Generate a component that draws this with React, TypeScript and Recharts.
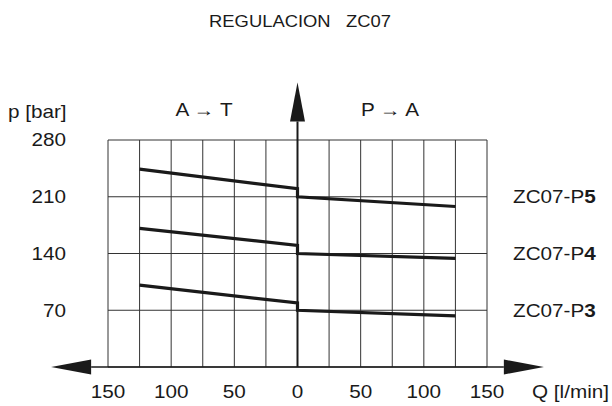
import React from 'react';
import { LineChart, Line, XAxis, YAxis, CartesianGrid, ReferenceLine, Customized } from 'recharts';

// ---- data ----
const flowQ = [-125, 0, 0, 125];
const pressureP5 = [244, 220, 210, 198];
const pressureP4 = [171, 150, 140, 134];
const pressureP3 = [101, 79, 70, 63];

const xGridTicks = [-150, -125, -100, -75, -50, -25, 0, 25, 50, 75, 100, 125, 150];
const xLabelTicks = [-150, -100, -50, 0, 50, 100, 150];
const yTicks = [0, 70, 140, 210, 280];
const yLabelTicks = [70, 140, 210, 280];

const curveNames = ['ZC07-P', 'ZC07-P', 'ZC07-P'];
const curveSuffix = ['5', '4', '3'];
const curveLevels = [210, 140, 70];

const xArrowRange = [-195, 195];
const yArrowTop = 351;

const tableData = flowQ.map((q, i) => ({
  q,
  p5: pressureP5[i],
  p4: pressureP4[i],
  p3: pressureP3[i],
}));

// ---- styles ----
const FONT = '"Liberation Sans", Arial, Helvetica, sans-serif';
const SX = 1.15;
const INK = '#1a1a1a';

const T = ({ x, y, anchor = 'start', size = 18, children }: any) => (
  <text
    transform={`translate(${x},${y}) scale(${SX},1)`}
    textAnchor={anchor}
    fontSize={size}
    fontFamily={FONT}
    fill={INK}
    stroke="none"
    dominantBaseline="central"
  >
    {children}
  </text>
);

const emptyTick = () => <g />;

const XTickLabel = (value: number) => (props: any) => {
  const { viewBox } = props;
  return (
    <T x={viewBox.x} y={392} anchor="middle">
      {String(Math.abs(value))}
    </T>
  );
};

const YTickLabel = (value: number) => (props: any) => {
  const { viewBox } = props;
  return (
    <T x={66} y={viewBox.y} anchor="end">
      {String(value)}
    </T>
  );
};

const YArrow = (props: any) => {
  const { x1, y1, y2 } = props;
  const top = Math.min(y1, y2);
  const bottom = Math.max(y1, y2);
  const head = 39;
  const half = 7.5;
  return (
    <g>
      <line x1={x1} x2={x1} y1={bottom} y2={top + head} stroke={INK} strokeWidth={2} />
      <polygon points={`${x1},${top} ${x1 - half},${top + head} ${x1 + half},${top + head}`} fill={INK} />
    </g>
  );
};

const XArrow = (props: any) => {
  const { x1, x2, y1 } = props;
  const left = Math.min(x1, x2);
  const right = Math.max(x1, x2);
  const head = 40;
  const half = 7.5;
  return (
    <g>
      <line x1={left + head} x2={right - head} y1={y1} y2={y1} stroke={INK} strokeWidth={1.5} />
      <polygon points={`${left},${y1} ${left + head},${y1 - half} ${left + head},${y1 + half}`} fill={INK} />
      <polygon points={`${right},${y1} ${right - head},${y1 - half} ${right - head},${y1 + half}`} fill={INK} />
    </g>
  );
};

const CurveLabel = (idx: number) => (props: any) => {
  const { viewBox } = props;
  const x = viewBox.x + viewBox.width + 26;
  const y = viewBox.y;
  return (
    <text
      transform={`translate(${x},${y}) scale(${SX},1)`}
      fontSize={18}
      fontFamily={FONT}
      fill={INK}
      stroke="none"
      dominantBaseline="central"
    >
      {curveNames[idx]}
      <tspan fontWeight="bold">{curveSuffix[idx]}</tspan>
    </text>
  );
};

const Texts = () => (
  <g>
    <T x={300} y={21.5} anchor="middle" size={16}>
      {'REGULACION\u00a0\u00a0\u00a0ZC07'}
    </T>
    <T x={8} y={112}>p [bar]</T>
    <T x={204} y={110} anchor="middle">
      {'A \u2192 T'}
    </T>
    <T x={390} y={110} anchor="middle">
      {'P \u2192 A'}
    </T>
    <T x={532} y={392}>Q [l/min]</T>
  </g>
);

export default function App() {
  return (
    <div style={{ position: 'absolute', left: 0, top: 0, width: 612, height: 406, background: '#fff' }}>
      <LineChart
        width={612}
        height={406}
        data={tableData}
        margin={{ top: 140, right: 125, bottom: 9, left: 48 }}
      >
        <CartesianGrid stroke="#333" strokeWidth={1} vertical horizontal />
        <XAxis
          dataKey="q"
          type="number"
          domain={[-150, 150]}
          ticks={xGridTicks}
          interval={0}
          height={30}
          axisLine={false}
          tickLine={false}
          tick={emptyTick}
          allowDataOverflow
        />
        <YAxis
          type="number"
          domain={[0, 280]}
          ticks={yTicks}
          interval={0}
          width={60}
          axisLine={false}
          tickLine={false}
          tick={emptyTick}
          allowDataOverflow
        />
        {xLabelTicks.map((v) => (
          <ReferenceLine key={'x' + v} x={v} stroke="none" ifOverflow="visible" label={XTickLabel(v)} />
        ))}
        {yLabelTicks.map((v) => (
          <ReferenceLine key={'y' + v} y={v} stroke="none" ifOverflow="visible" label={YTickLabel(v)} />
        ))}
        <ReferenceLine
          segment={[{ x: xArrowRange[0], y: 0 }, { x: xArrowRange[1], y: 0 }]}
          ifOverflow="visible"
          shape={XArrow}
        />
        <ReferenceLine
          segment={[{ x: 0, y: 0 }, { x: 0, y: yArrowTop }]}
          ifOverflow="visible"
          shape={YArrow}
        />
        {curveLevels.map((lv, i) => (
          <ReferenceLine key={lv} y={lv} stroke="none" ifOverflow="visible" label={CurveLabel(i)} />
        ))}
        <Line dataKey="p5" type="linear" stroke={INK} strokeWidth={3.2} dot={false} isAnimationActive={false} />
        <Line dataKey="p4" type="linear" stroke={INK} strokeWidth={3.2} dot={false} isAnimationActive={false} />
        <Line dataKey="p3" type="linear" stroke={INK} strokeWidth={3.2} dot={false} isAnimationActive={false} />
        <Customized component={Texts} />
      </LineChart>
    </div>
  );
}
